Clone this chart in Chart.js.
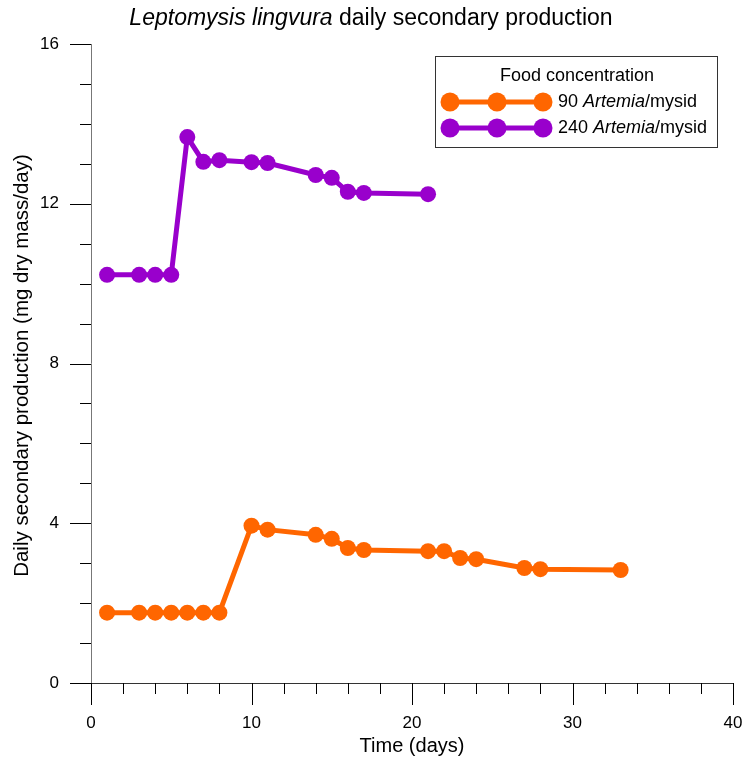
<!DOCTYPE html>
<html>
<head>
<meta charset="utf-8">
<script src="https://cdn.jsdelivr.net/npm/chart.js@4"></script>
<style>
  html, body { margin: 0; padding: 0; background: #fff; }
  canvas { display: block; }
</style>
</head>
<body>
<canvas id="chart" width="744" height="760"></canvas>
<script>
// 90 Artemia/mysid
const days90 = [1, 3, 4, 5, 6, 7, 8, 10, 11, 14, 15, 16, 17, 21, 22, 23, 24, 27, 28, 33];
const prod90 = [1.76, 1.76, 1.76, 1.76, 1.76, 1.76, 1.76, 3.94, 3.84, 3.71, 3.61, 3.38, 3.33, 3.30, 3.30, 3.13, 3.10, 2.88, 2.85, 2.83];

// 240 Artemia/mysid
const days240 = [1, 3, 4, 5, 6, 7, 8, 10, 11, 14, 15, 16, 17, 21];
const prod240 = [10.22, 10.22, 10.22, 10.22, 13.67, 13.05, 13.09, 13.04, 13.02, 12.72, 12.65, 12.30, 12.27, 12.24];

const xTicks = [0, 10, 20, 30, 40];
const yTicks = [0, 4, 8, 12, 16];

const ORANGE = "#ff6600";
const PURPLE = "#9900cc";
const FONT = "Liberation Sans, Arial, sans-serif";

function points(xs, ys) {
  return xs.map((x, i) => ({ x: x, y: ys[i] }));
}

function dataset(label, xs, ys, color) {
  return {
    label: label,
    data: points(xs, ys),
    borderColor: color,
    backgroundColor: color,
    borderWidth: 5,
    pointRadius: 8,
    pointHoverRadius: 8,
    pointBorderWidth: 0,
    tension: 0
  };
}

// draws the axes, ticks, titles and legend around the chart area
const decorations = {
  id: "decorations",
  beforeDatasetsDraw(chart) {
    const ctx = chart.ctx;
    const xs = chart.scales.x;
    const ys = chart.scales.y;
    const x0 = xs.getPixelForValue(0);
    const y0 = ys.getPixelForValue(0);

    ctx.save();
    ctx.lineWidth = 1;

    // axis lines
    ctx.strokeStyle = "#777";
    ctx.beginPath();
    ctx.moveTo(x0 + 0.5, ys.getPixelForValue(16));
    ctx.lineTo(x0 + 0.5, y0);
    ctx.stroke();
    ctx.strokeStyle = "#333";
    ctx.beginPath();
    ctx.moveTo(x0, y0 + 0.5);
    ctx.lineTo(xs.getPixelForValue(40), y0 + 0.5);
    ctx.stroke();

    // y ticks: major every 4, minor every 1
    ctx.strokeStyle = "#000";
    for (let v = 0; v <= 16; v++) {
      const py = Math.round(ys.getPixelForValue(v)) + 0.5;
      const len = v % 4 === 0 ? 21 : 11;
      ctx.beginPath();
      ctx.moveTo(x0 - len, py);
      ctx.lineTo(x0, py);
      ctx.stroke();
    }
    // x ticks: major every 10, minor every 2
    for (let v = 0; v <= 40; v += 2) {
      const px = Math.round(xs.getPixelForValue(v)) + 0.5;
      const len = v % 10 === 0 ? 22 : 11;
      ctx.beginPath();
      ctx.moveTo(px, y0);
      ctx.lineTo(px, y0 + len);
      ctx.stroke();
    }

    // tick labels
    ctx.fillStyle = "#000";
    ctx.font = "17px " + FONT;
    ctx.textAlign = "right";
    ctx.textBaseline = "middle";
    yTicks.forEach(v => ctx.fillText(String(v), 59, ys.getPixelForValue(v)));
    ctx.textAlign = "center";
    xTicks.forEach(v => ctx.fillText(String(v), xs.getPixelForValue(v), 723));

    // axis titles
    ctx.font = "20px " + FONT;
    const area = chart.chartArea;
    ctx.fillText("Time (days)", (area.left + area.right) / 2, 746);
    ctx.save();
    ctx.font = "20.5px " + FONT;
    ctx.translate(22, (area.top + area.bottom) / 2 + 2);
    ctx.rotate(-Math.PI / 2);
    ctx.fillText("Daily secondary production (mg dry mass/day)", 0, 0);
    ctx.restore();

    // chart title, with the species name in italics
    const italic = "italic 23px " + FONT;
    const plain = "23px " + FONT;
    const t1 = "Leptomysis lingvura";
    const t2 = " daily secondary production";
    ctx.font = italic;
    const w1 = ctx.measureText(t1).width;
    ctx.font = plain;
    const w2 = ctx.measureText(t2).width;
    const tx = 371 - (w1 + w2) / 2;
    ctx.textAlign = "left";
    ctx.font = italic;
    ctx.fillText(t1, tx, 19);
    ctx.font = plain;
    ctx.fillText(t2, tx + w1, 19);

    ctx.restore();
  },
  afterDraw(chart) {
    const ctx = chart.ctx;
    ctx.save();

    // legend box
    ctx.fillStyle = "#fff";
    ctx.fillRect(435, 56, 282, 91);
    ctx.strokeStyle = "#333";
    ctx.lineWidth = 1;
    ctx.strokeRect(435.5, 56.5, 282, 91);

    ctx.fillStyle = "#000";
    ctx.font = "18px " + FONT;
    ctx.textAlign = "center";
    ctx.textBaseline = "middle";
    ctx.fillText("Food concentration", 577, 76);

    const rows = [
      { color: ORANGE, num: "90 ", y: 102 },
      { color: PURPLE, num: "240 ", y: 128 }
    ];
    rows.forEach(r => {
      ctx.strokeStyle = r.color;
      ctx.fillStyle = r.color;
      ctx.lineWidth = 5;
      ctx.beginPath();
      ctx.moveTo(450, r.y);
      ctx.lineTo(543, r.y);
      ctx.stroke();
      [450, 497, 543].forEach(cx => {
        ctx.beginPath();
        ctx.arc(cx, r.y, 9.5, 0, Math.PI * 2);
        ctx.fill();
      });

      ctx.fillStyle = "#000";
      ctx.textAlign = "left";
      let lx = 558;
      ctx.font = "18px " + FONT;
      ctx.fillText(r.num, lx, r.y);
      lx += ctx.measureText(r.num).width;
      ctx.font = "italic 18px " + FONT;
      ctx.fillText("Artemia", lx, r.y);
      lx += ctx.measureText("Artemia").width;
      ctx.font = "18px " + FONT;
      ctx.fillText("/mysid", lx, r.y);
    });

    ctx.restore();
  }
};

new Chart(document.getElementById("chart"), {
  type: "line",
  data: {
    datasets: [
      dataset("90 Artemia/mysid", days90, prod90, ORANGE),
      dataset("240 Artemia/mysid", days240, prod240, PURPLE)
    ]
  },
  options: {
    responsive: false,
    animation: false,
    layout: {
      padding: { left: 91, right: 11, top: 44, bottom: 77 }
    },
    scales: {
      x: { type: "linear", min: 0, max: 40, display: false },
      y: { type: "linear", min: 0, max: 16, display: false }
    },
    plugins: {
      legend: { display: false },
      title: { display: false },
      tooltip: { enabled: false }
    }
  },
  plugins: [decorations]
});
</script>
</body>
</html>
